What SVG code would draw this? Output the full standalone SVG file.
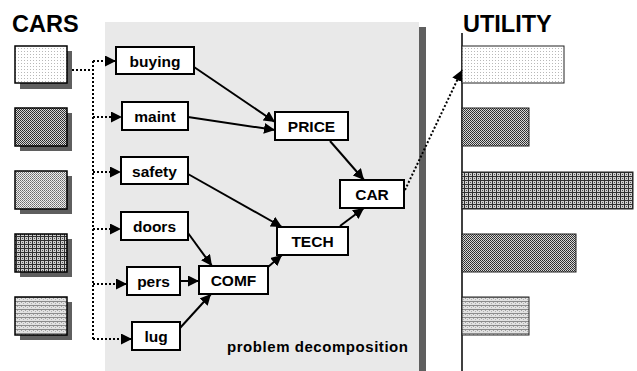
<svg xmlns="http://www.w3.org/2000/svg" width="637" height="371" viewBox="0 0 637 371">
  <defs>
    <style>
      .title { font-family: "Liberation Sans", Arial, sans-serif; font-weight: bold; font-size: 23.5px; fill: #000; }
      .label { font-family: "Liberation Sans", Arial, sans-serif; font-weight: bold; font-size: 15.5px; fill: #000; text-anchor: middle; dominant-baseline: central; }
      .caption { font-family: "Liberation Sans", Arial, sans-serif; font-weight: bold; font-size: 15px; fill: #000; }
      .node { fill: #fff; stroke: #000; stroke-width: 2; }
      .edge { fill: none; stroke: #000; stroke-width: 2; marker-end: url(#arrow); }
      .dots { fill: none; stroke: #000; stroke-width: 2; stroke-dasharray: 2 2; }
      .dots-arrow { fill: none; stroke: #000; stroke-width: 2; stroke-dasharray: 2 2; marker-end: url(#arrow); }
      .shadow { fill: #5f5f5f; }
      .car { stroke: #000; stroke-width: 1.5; }
      .bar { stroke: #222; stroke-width: 1; }
    </style>
    <marker id="arrow" viewBox="0 0 10 10" refX="10" refY="5" markerWidth="5.5" markerHeight="5.5" orient="auto" markerUnits="strokeWidth">
      <path d="M0,0 L10,5 L0,10 z" fill="#000"/>
    </marker>
    <!-- fill textures for the car boxes and utility bars -->
    <pattern id="p1" width="3" height="3" patternUnits="userSpaceOnUse">
      <rect width="3" height="3" fill="#fff"/>
      <rect width="1" height="1" fill="#b8b8b8"/>
    </pattern>
    <pattern id="p2" width="2" height="2" patternUnits="userSpaceOnUse">
      <rect width="2" height="2" fill="#d8d8d8"/>
      <rect width="1" height="1" fill="#2a2a2a"/>
      <rect x="1" y="1" width="1" height="1" fill="#3a3a3a"/>
    </pattern>
    <pattern id="p3" width="2" height="2" patternUnits="userSpaceOnUse">
      <rect width="2" height="2" fill="#eeeeee"/>
      <rect width="1" height="1" fill="#6a6a6a"/>
      <rect x="1" y="1" width="1" height="1" fill="#8a8a8a"/>
    </pattern>
    <pattern id="p4" width="4" height="4" patternUnits="userSpaceOnUse">
      <rect width="4" height="4" fill="#cfcfcf"/>
      <rect width="4" height="1" fill="#303030"/>
      <rect width="1" height="4" fill="#303030"/>
      <rect x="2" y="2" width="1" height="1" fill="#555"/>
    </pattern>
    <pattern id="p5" width="4" height="4" patternUnits="userSpaceOnUse">
      <rect width="4" height="4" fill="#e2e2e2"/>
      <rect y="1" width="4" height="1" fill="#8c8c8c"/>
      <rect x="1" y="2" width="1" height="1" fill="#a0a0a0"/>
      <rect x="3" y="3" width="1" height="1" fill="#b0b0b0"/>
    </pattern>
  </defs>

  <rect width="637" height="371" fill="#fff"/>

  <!-- decomposition panel -->
  <rect x="419" y="27" width="7" height="344" fill="#5f5f5f"/>
  <rect x="105" y="22" width="314" height="349" fill="#e9e9e9"/>
  <text class="caption" x="227" y="352" textLength="181">problem decomposition</text>

  <!-- titles -->
  <text class="title" x="12" y="32">CARS</text>
  <text class="title" x="463" y="32">UTILITY</text>

  <!-- car samples -->
  <g id="car1"><rect class="shadow" x="20" y="51" width="52" height="38"/><rect class="car" x="15" y="46" width="52" height="37" fill="url(#p1)"/></g>
  <g id="car2"><rect class="shadow" x="20" y="113" width="52" height="38"/><rect class="car" x="15" y="108" width="52" height="38" fill="url(#p2)"/></g>
  <g id="car3"><rect class="shadow" x="20" y="176" width="52" height="38"/><rect class="car" x="15" y="171" width="52" height="38" fill="url(#p3)"/></g>
  <g id="car4"><rect class="shadow" x="20" y="239" width="52" height="38"/><rect class="car" x="15" y="234" width="52" height="38" fill="url(#p4)"/></g>
  <g id="car5"><rect class="shadow" x="20" y="302" width="52" height="38"/><rect class="car" x="15" y="297" width="52" height="38" fill="url(#p5)"/></g>

  <!-- utility axis and bars -->
  <g id="utility">
    <line x1="462" y1="33" x2="462" y2="371" stroke="#000" stroke-width="1.5"/>
    <rect class="bar" x="462" y="46" width="102" height="37" fill="url(#p1)"/>
    <rect class="bar" x="462" y="108" width="67" height="38" fill="url(#p2)"/>
    <rect class="bar" x="462" y="172" width="171" height="37" fill="url(#p4)"/>
    <rect class="bar" x="462" y="234" width="114" height="38" fill="url(#p2)"/>
    <rect class="bar" x="462" y="297" width="67" height="38" fill="url(#p5)"/>
  </g>

  <!-- connectors -->
  <g id="connectors">
    <path class="dots" d="M72,70 H93 M93,61 V339"/>
    <path class="dots-arrow" d="M93,61 H116"/>
    <path class="dots-arrow" d="M93,117 H122"/>
    <path class="dots-arrow" d="M93,172 H121"/>
    <path class="dots-arrow" d="M93,229 H121"/>
    <path class="dots-arrow" d="M93,284 H127"/>
    <path class="dots-arrow" d="M93,339 H132"/>

    <path class="edge" d="M194,67 L275,122"/>
    <path class="edge" d="M188,117 L275,130"/>
    <path class="edge" d="M188,174 L282,227"/>
    <path class="edge" d="M188,233 L212,266"/>
    <path class="edge" d="M180,281 L199,281"/>
    <path class="edge" d="M180,328 L211,294"/>
    <path class="edge" d="M268,267 L282,255"/>
    <path class="edge" d="M330,141 L364,180"/>
    <path class="edge" d="M340,226 L364,208"/>
    <path class="dots-arrow" d="M405,190 L462,70"/>
  </g>

  <!-- attribute nodes -->
  <g id="buying"><rect class="node" x="116" y="47" width="78" height="27"/><text class="label" x="155" y="61">buying</text></g>
  <g id="maint"><rect class="node" x="122" y="102" width="66" height="28"/><text class="label" x="155" y="116">maint</text></g>
  <g id="safety"><rect class="node" x="121" y="157" width="67" height="27"/><text class="label" x="154.5" y="171">safety</text></g>
  <g id="doors"><rect class="node" x="121" y="212" width="67" height="28"/><text class="label" x="154.5" y="226">doors</text></g>
  <g id="pers"><rect class="node" x="127" y="267" width="53" height="28"/><text class="label" x="153.5" y="281">pers</text></g>
  <g id="lug"><rect class="node" x="132" y="322" width="48" height="28"/><text class="label" x="156" y="336">lug</text></g>

  <!-- aggregate nodes -->
  <g id="COMF"><rect class="node" x="199" y="266" width="69" height="28"/><text class="label" x="233.5" y="280">COMF</text></g>
  <g id="TECH"><rect class="node" x="277" y="227" width="71" height="28"/><text class="label" x="312.5" y="241">TECH</text></g>
  <g id="PRICE"><rect class="node" x="275" y="112" width="73" height="28"/><text class="label" x="311.5" y="126">PRICE</text></g>
  <g id="CAR"><rect class="node" x="340" y="180" width="64" height="28"/><text class="label" x="372" y="194">CAR</text></g>
</svg>
